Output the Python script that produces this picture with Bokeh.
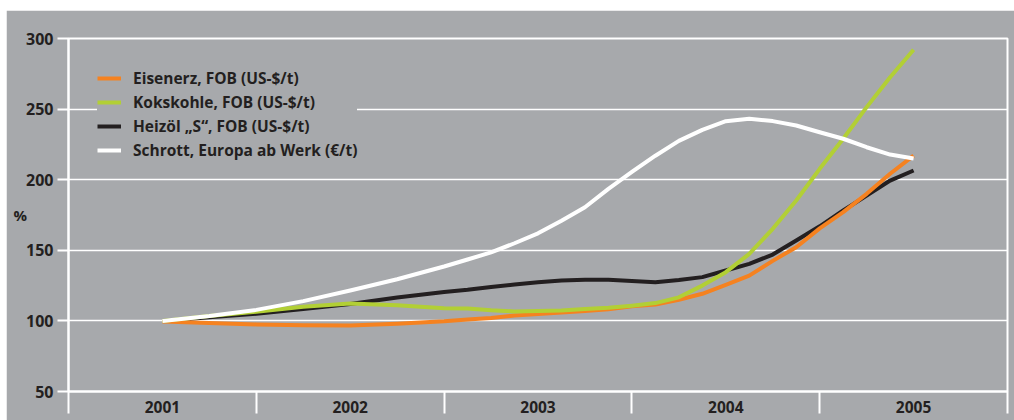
from bokeh.plotting import figure
from bokeh.models import Range1d, FixedTicker, Legend, LegendItem, Spacer
from bokeh.layouts import column, row
from bokeh.embed import file_html
from bokeh.resources import INLINE

# x positions of the readings and series values in % (2001 = 100)
years = [2001, 2001.25, 2001.5, 2001.75, 2002, 2002.25, 2002.5, 2002.625,
         2002.75, 2002.875, 2003, 2003.125, 2003.25, 2003.375, 2003.5,
         2003.625, 2003.75, 2003.875, 2004, 2004.125, 2004.25, 2004.375,
         2004.5, 2004.625, 2004.75, 2004.875, 2005]
eisenerz = [99.5, 98.5, 97.5, 97, 96.8, 98, 99.7, 101, 102, 103.8, 104.8,
            106, 107, 108.3, 110.3, 111.6, 115, 119.2, 125.5, 132.1, 142.5,
            152.2, 165.5, 177, 190, 204.2, 217]
kokskohle = [100, 103.5, 106.5, 110, 112.3, 111, 109, 108.8, 107.5, 106.7,
             107, 107.4, 108.5, 109.3, 110.8, 112.6, 116.7, 125, 134.5, 147.5,
             165.2, 185.3, 207.7, 229, 251.4, 272.6, 292]
heizoel = [100, 102.5, 105, 108.5, 112, 116.5, 120.5, 122, 124, 125.8, 127.3,
           128.6, 129.2, 129.1, 128.3, 127.4, 129, 131, 135.7, 140.4, 147, 157,
           167, 178.2, 188.7, 199.4, 206.5]
schrott = [100, 103.5, 107.8, 114, 121.5, 129.5, 138.5, 143.5, 148.5, 155,
           162, 171, 180.5, 193.5, 205.5, 217, 227.5, 235.3, 241.4, 243.1,
           241.5, 238.4, 233.6, 229, 223, 217.8, 215]

labels = ["Eisenerz, FOB (US-$/t)", "Kokskohle, FOB (US-$/t)",
          "Heizöl „S“, FOB (US-$/t)", "Schrott, Europa ab Werk (€/t)"]
colors = ["#f58220", "#b2cf35", "#231f20", "#ffffff"]

tick_years = [2001, 2002, 2003, 2004, 2005]
tick_labels = ["2001", "2002", "2003", "2004", "2005"]
boundaries = [2000.5, 2001.5, 2002.5, 2003.5, 2004.5, 2005.5]
y_ticks = [50, 100, 150, 200, 250, 300]
y_title = "%"

GRAY = "#a7a9ac"
TEXT = "#231f20"
FONT = "Open Sans"

p = figure(width=1008, height=410, output_backend="svg", toolbar_location=None,
           x_range=Range1d(2000.5, 2005.5), y_range=Range1d(50, 300),
           min_border_left=62, min_border_right=7, min_border_top=28,
           min_border_bottom=29)
p.background_fill_color = GRAY
p.border_fill_color = GRAY
p.outline_line_color = "white"
p.outline_line_width = 2

p.xgrid.visible = False
p.ygrid.ticker = FixedTicker(ticks=y_ticks)
p.ygrid.grid_line_color = "white"
p.ygrid.grid_line_width = 1.5

xa = p.xaxis[0]
xa.ticker = FixedTicker(ticks=tick_years, minor_ticks=boundaries)
xa.major_label_overrides = dict(zip(tick_years, tick_labels))
xa.major_tick_out = 0
xa.major_tick_in = 0
xa.major_tick_line_color = None
xa.minor_tick_out = 22
xa.minor_tick_in = 0
xa.minor_tick_line_color = "white"
xa.minor_tick_line_width = 2
xa.axis_line_color = "white"
xa.axis_line_width = 2
xa.major_label_standoff = -13
xa.major_label_text_font = FONT
xa.major_label_text_font_style = "bold"
xa.major_label_text_font_size = "15.5px"
xa.major_label_text_color = TEXT

ya = p.yaxis[0]
ya.ticker = FixedTicker(ticks=y_ticks, minor_ticks=[])
ya.major_tick_out = 11
ya.major_tick_in = 0
ya.major_tick_line_color = "white"
ya.major_tick_line_width = 2
ya.axis_line_color = "white"
ya.axis_line_width = 2
ya.major_label_standoff = 4
ya.major_label_text_font = FONT
ya.major_label_text_font_style = "bold"
ya.major_label_text_font_size = "16px"
ya.major_label_text_color = TEXT
ya.axis_label = y_title
ya.axis_label_text_font = FONT
ya.axis_label_text_font_style = "bold"
ya.axis_label_text_font_size = "15px"
ya.axis_label_text_color = TEXT
ya.axis_label_standoff = -4
try:
    ya.axis_label_orientation = "horizontal"
except Exception:
    pass

series = [eisenerz, kokskohle, heizoel, schrott]
renderers = {}
for idx in [2, 0, 1, 3]:
    renderers[idx] = p.line(years, series[idx], line_color=colors[idx],
                            line_width=4, line_join="round", line_cap="butt")

items = [LegendItem(label=labels[i], renderers=[renderers[i]]) for i in range(4)]
legend = Legend(items=items, location="top_left",
                background_fill_color=GRAY, background_fill_alpha=1.0,
                border_line_color=None,
                label_text_font=FONT, label_text_font_style="bold",
                label_text_font_size="15.5px", label_text_color=TEXT,
                glyph_width=24, glyph_height=20, label_height=20,
                spacing=2, padding=10, margin=29, label_standoff=12)
p.add_layout(legend)

page = column(Spacer(height=10), row(Spacer(width=6), p))
open("out.html", "w").write(file_html(page, INLINE))
